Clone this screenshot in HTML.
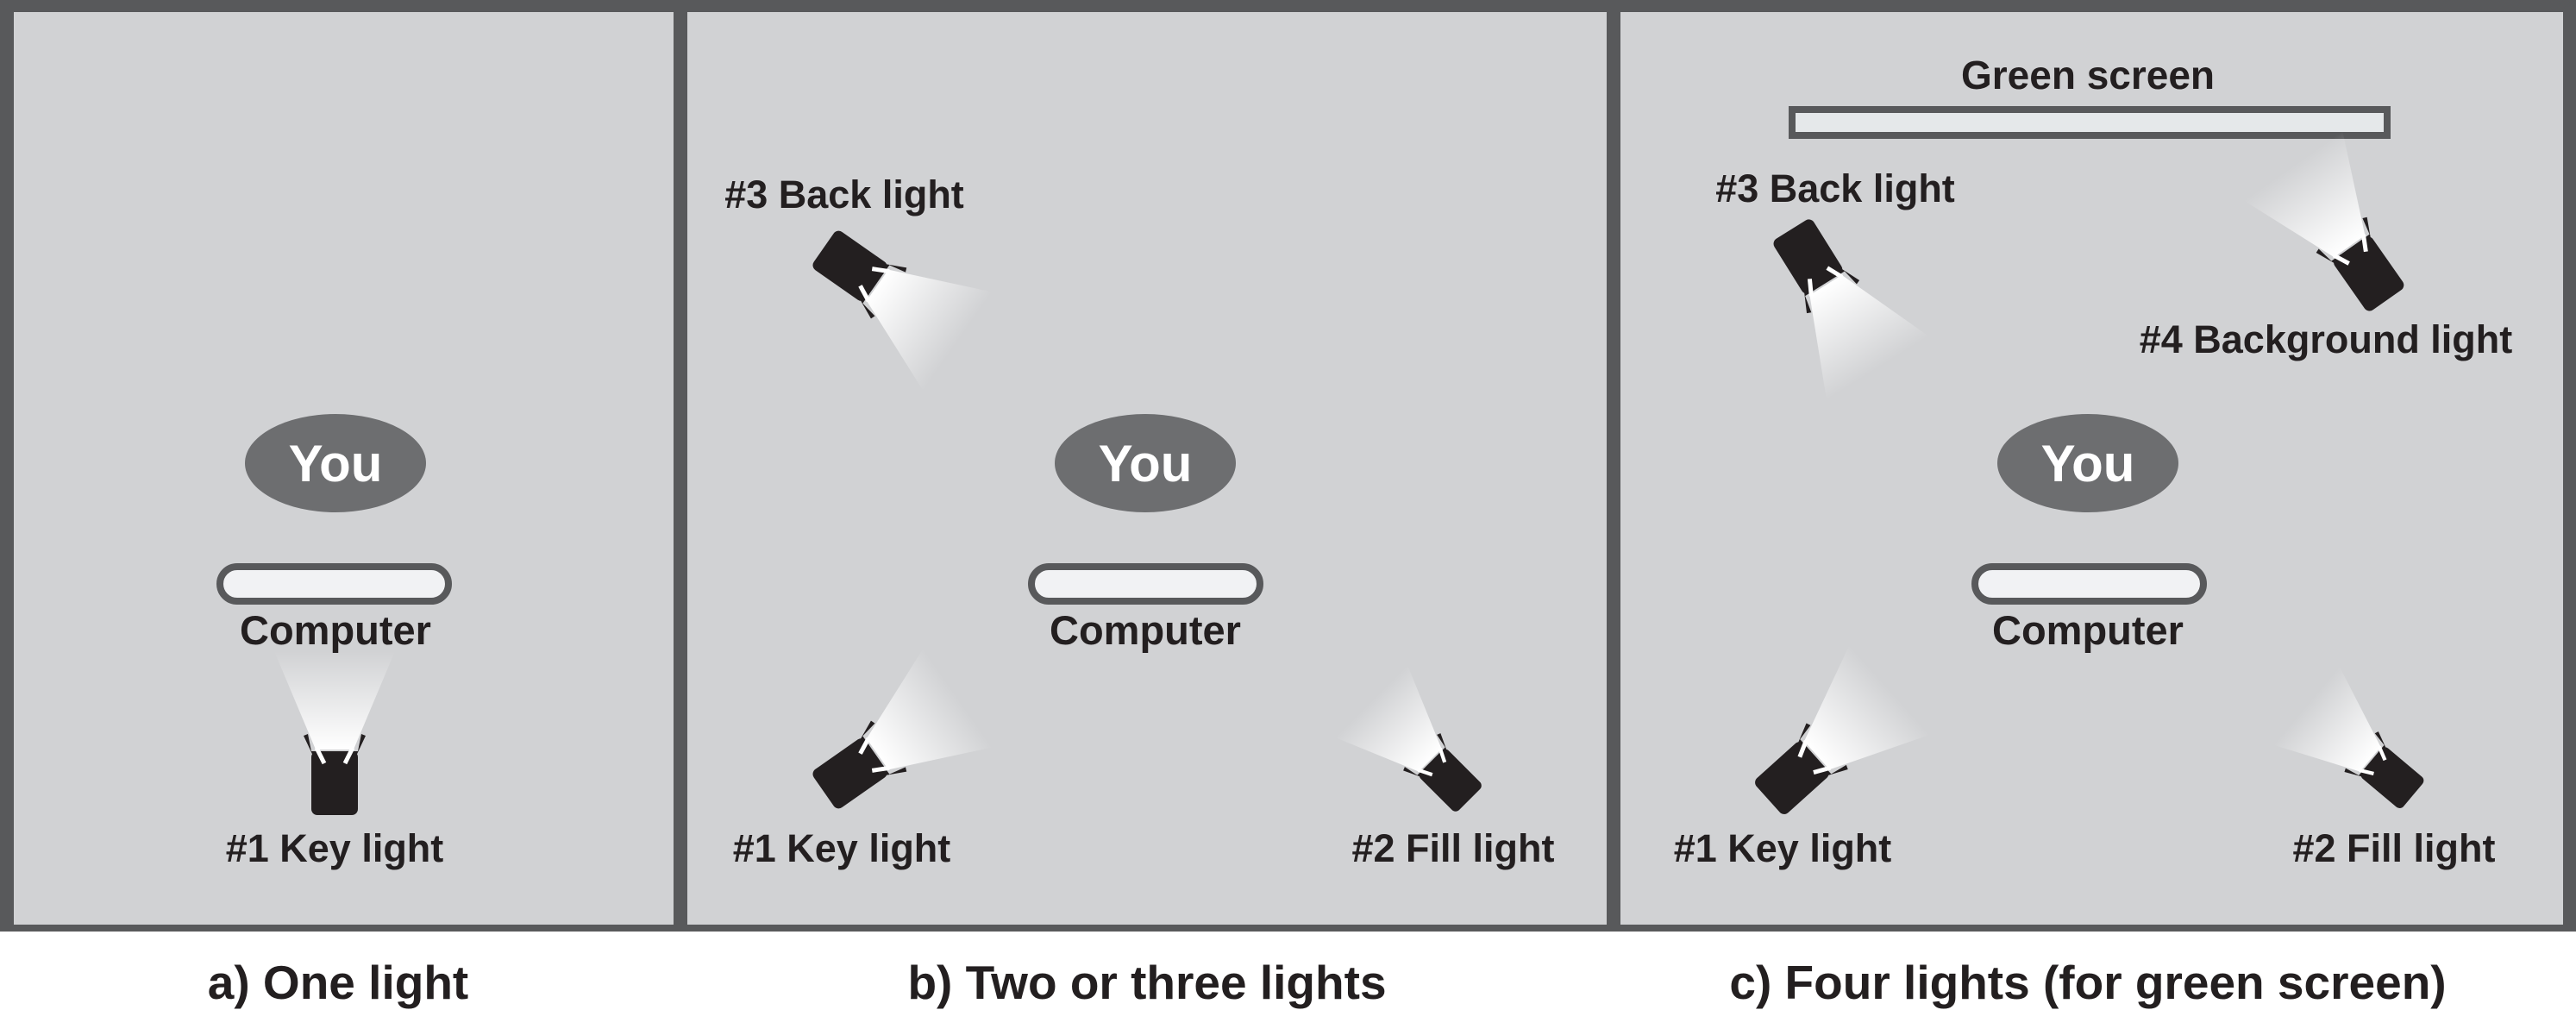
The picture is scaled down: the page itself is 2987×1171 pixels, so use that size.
<!DOCTYPE html>
<html><head><meta charset="utf-8"><style>
html,body{margin:0;padding:0;background:#fff;}
svg{display:block;}
text{font-family:"Liberation Sans",sans-serif;font-weight:bold;fill:#231f20;}
</style></head><body>
<svg width="2987" height="1171" viewBox="0 0 2987 1171" xmlns="http://www.w3.org/2000/svg">
<defs>
<linearGradient id="bm" x1="0" y1="1" x2="0" y2="0">
<stop offset="0" stop-color="#fff"/><stop offset="1" stop-color="#fff" stop-opacity="0"/>
</linearGradient>
<g id="lamp">
<polygon points="-22,-36 22,-36 70,-150 -70,-150" fill="url(#bm)"/>
<rect x="-27" y="-34" width="54" height="74" rx="7" fill="#231f20"/>
<polygon points="-27,-34 -14,-34 -20,-18 -36,-52 -31,-54" fill="#231f20"/>
<polygon points="27,-34 14,-34 20,-18 36,-52 31,-54" fill="#231f20"/>
<line x1="-21" y1="-38" x2="-12" y2="-20" stroke="#fff" stroke-width="5"/>
<line x1="21" y1="-38" x2="12" y2="-20" stroke="#fff" stroke-width="5"/>
</g>
</defs>
<rect x="0" y="0" width="2987" height="1171" fill="#fff"/>
<rect x="0" y="0" width="2987" height="1080" fill="#58595b"/>
<rect x="16" y="14" width="765" height="1058" fill="#d1d2d4"/>
<rect x="797" y="14" width="1066" height="1058" fill="#d1d2d4"/>
<rect x="1879" y="14" width="1093" height="1058" fill="#d1d2d4"/>

<!-- Panel a -->
<ellipse cx="389" cy="537" rx="105" ry="57" fill="#6d6e70"/>
<text x="389" y="558" font-size="60" text-anchor="middle" style="fill:#fff">You</text>
<rect x="255" y="657" width="265" height="40" rx="20" fill="#f1f2f4" stroke="#58595b" stroke-width="8"/>
<text x="389" y="747" font-size="47" text-anchor="middle">Computer</text>
<use href="#lamp" transform="translate(388,905)"/>
<text x="388" y="999" font-size="45" text-anchor="middle">#1 Key light</text>
<text x="392" y="1158" font-size="55" text-anchor="middle">a) One light</text>

<!-- Panel b -->
<text x="979" y="241" font-size="45" text-anchor="middle">#3 Back light</text>
<use href="#lamp" transform="translate(988,310) rotate(125)"/>
<ellipse cx="1328" cy="537" rx="105" ry="57" fill="#6d6e70"/>
<text x="1328" y="558" font-size="60" text-anchor="middle" style="fill:#fff">You</text>
<rect x="1196" y="657" width="265" height="40" rx="20" fill="#f1f2f4" stroke="#58595b" stroke-width="8"/>
<text x="1328" y="747" font-size="47" text-anchor="middle">Computer</text>
<use href="#lamp" transform="translate(988,895) rotate(55)"/>
<text x="976" y="999" font-size="45" text-anchor="middle">#1 Key light</text>
<use href="#lamp" transform="translate(1680,903) rotate(-45) scale(0.85)"/>
<text x="1685" y="999" font-size="45" text-anchor="middle">#2 Fill light</text>
<text x="1330" y="1158" font-size="55" text-anchor="middle">b) Two or three lights</text>

<!-- Panel c -->
<text x="2421" y="103" font-size="46" text-anchor="middle">Green screen</text>
<rect x="2078" y="127" width="690" height="30" fill="#e5e8ea" stroke="#58595b" stroke-width="8"/>
<text x="2128" y="234" font-size="45" text-anchor="middle">#3 Back light</text>
<use href="#lamp" transform="translate(2098,300) rotate(148)"/>
<use href="#lamp" transform="translate(2745,315) rotate(-35)"/>
<text x="2697" y="409" font-size="45" text-anchor="middle">#4 Background light</text>
<ellipse cx="2421" cy="537" rx="105" ry="57" fill="#6d6e70"/>
<text x="2421" y="558" font-size="60" text-anchor="middle" style="fill:#fff">You</text>
<rect x="2290" y="657" width="265" height="40" rx="20" fill="#f1f2f4" stroke="#58595b" stroke-width="8"/>
<text x="2421" y="747" font-size="47" text-anchor="middle">Computer</text>
<use href="#lamp" transform="translate(2080,900) rotate(48)"/>
<text x="2067" y="999" font-size="45" text-anchor="middle">#1 Key light</text>
<use href="#lamp" transform="translate(2772,900) rotate(-50) scale(0.85)"/>
<text x="2776" y="999" font-size="45" text-anchor="middle">#2 Fill light</text>
<text x="2421" y="1158" font-size="55" text-anchor="middle">c) Four lights (for green screen)</text>
</svg>
</body></html>
